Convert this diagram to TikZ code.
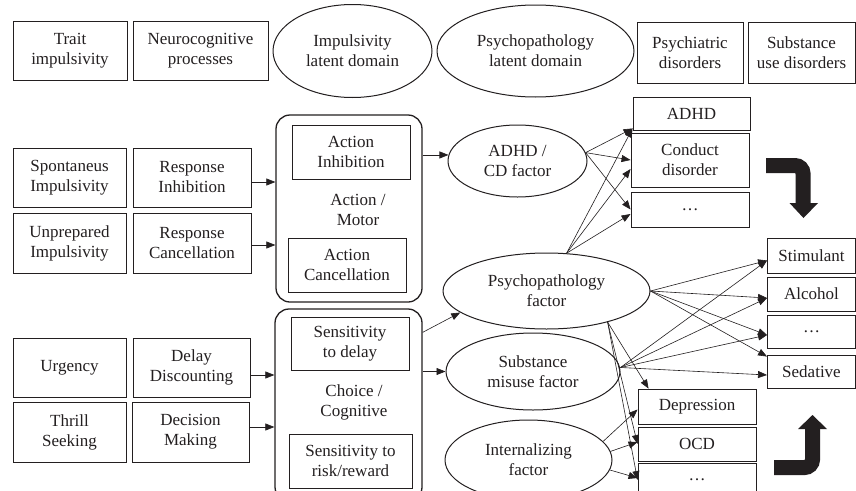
\documentclass[tikz,border=0pt]{standalone}
\usepackage{fontspec}
\setmainfont{Liberation Serif}
\usetikzlibrary{arrows.meta,calc,shapes.geometric}
\definecolor{ink}{HTML}{231F20}
\begin{document}
\begin{tikzpicture}[x=1pt,y=-1pt,
  every node/.style={font=\fontsize{17}{20}\selectfont, align=center, inner sep=0pt, text=ink},
  box/.style args={#1/#2}{draw=ink, rectangle, line width=0.9pt, minimum width=#1pt, minimum height=#2pt},
  ell/.style args={#1/#2}{draw=ink, ellipse, line width=1pt, minimum width=#1pt, minimum height=#2pt},
  rbox/.style args={#1/#2}{draw=ink, rectangle, rounded corners=14pt, line width=1.3pt, minimum width=#1pt, minimum height=#2pt},
  arr/.style={draw=ink, line width=0.6pt, -{Triangle[length=9pt,width=7pt]}},
  bigarrow/.style={draw=ink, line width=15pt, rounded corners=8pt}]
\useasboundingbox (0,0) rectangle (856,490);
\clip (0,0) rectangle (856,490);
\fill[white] (0,0) rectangle (856,490);

% header row
\node[box=114/59] (trait) at (70,50.5) {Trait\\impulsivity};
\node[box=135/59] (neuro) at (200.5,50.5) {Neurocognitive\\processes};
\node[ell=159/93] (implat) at (352.5,51) {Impulsivity\\latent domain};
\node[ell=197/92] (psylat) at (535.5,51) {Psychopathology\\latent domain};
\node[box=106/61] (psydis) at (690,52.5) {Psychiatric\\disorders};
\node[box=107/61] (subuse) at (801.5,52.5) {Substance\\use disorders};

% action / motor block
\node[box=113/59] (spont) at (69.5,177.5) {Spontaneus\\Impulsivity};
\node[box=118/59] (respinh) at (192,177.5) {Response\\Inhibition};
\node[box=113/60] (unprep) at (69.5,243) {Unprepared\\Impulsivity};
\node[box=118/60] (respcan) at (192,243) {Response\\Cancellation};
\node[rbox=146/187] (motor) at (349,208.5) {};
\node[box=118/54] (actinh) at (351,152) {Action\\Inhibition};
\node (motortxt) at (358,210) {Action /\\Motor};
\node[box=118/54] (actcan) at (347,265) {Action\\Cancellation};

% choice / cognitive block
\node[box=113/59] (urg) at (69.5,367.5) {Urgency};
\node[box=117/59] (delay) at (191.5,367.5) {Delay\\Discounting};
\node[box=113/60] (thrill) at (69.5,432) {Thrill\\Seeking};
\node[box=117/60] (decis) at (190.5,432) {Decision\\Making};
\node[rbox=147/192] (cog) at (348.5,405) {};
\node[box=118/53] (sensdel) at (350,343.5) {Sensitivity\\to delay};
\node (cogtxt) at (354,402) {Choice /\\Cognitive};
\node[box=123/54] (sensrisk) at (350.5,461) {Sensitivity to\\risk/reward};

% factors
\node[ell=139/72] (adhdcd) at (517.5,161) {ADHD /\\CD factor};
\node[ell=207/76] (psyf) at (546.5,291) {Psychopathology\\factor};
\node[ell=174/77] (subf) at (533,371.5) {Substance\\misuse factor};
\node[ell=167/80] (intf) at (528.5,460) {Internalizing\\factor};

% disorders
\node[box=117/33] (adhd) at (691.5,113.5) {ADHD};
\node[box=118/54] (conduct) at (690,160) {Conduct\\disorder};
\node[box=118/35] (dots1) at (690,209.5) {…};
\node[box=88/35] (stim) at (811.5,255.5) {Stimulant};
\node[box=88/34] (alc) at (811.5,294) {Alcohol};
\node[box=88/33] (dots2) at (811.5,331.5) {…};
\node[box=88/33] (sed) at (811.5,371.5) {Sedative};
\node[box=118/35] (dep) at (697,406.5) {Depression};
\node[box=118/34] (ocd) at (697,444) {OCD};
\node[box=118/34] (dots3) at (697,480) {…};

% inputs to blocks
\coordinate (p1) at ([yshift=-4.5pt]respinh.east);
\draw[arr] (p1) -- (p1 -| motor.west);
\coordinate (p2) at ([yshift=-2pt]respcan.east);
\draw[arr] (p2) -- (p2 -| motor.west);
\coordinate (p3) at ([yshift=-7.5pt]delay.east);
\draw[arr] (p3) -- (p3 -| cog.west);
\coordinate (p4) at ([yshift=5pt]decis.east);
\draw[arr] (p4) -- (p4 -| cog.west);

% blocks to factors
\draw[arr] (motor.east |- adhdcd.175) -- (adhdcd.175);
\coordinate (p5) at ([yshift=-24pt]cog.north east);
\draw[arr] (p5) -- (psyf.194);
\draw[arr] (cog.east |- subf.west) -- (subf.west);

% factors to disorders
\coordinate (t1) at ([yshift=2pt]adhd.south west);
\draw[arr] (adhdcd.7) -- (t1);
\draw[arr] (adhdcd.7) -- (conduct.west);
\draw[arr] (adhdcd.7) -- (dots1.west);
\draw[arr] (psyf.62) -- (t1);
\draw[arr] (psyf.62) -- ([yshift=-9pt]conduct.west);
\draw[arr] (psyf.62) -- ([yshift=-4.5pt]dots1.west);

\coordinate (s1) at ([yshift=-5pt]stim.west);
\coordinate (s2) at ([yshift=-4pt]alc.west);
\coordinate (s3) at ([yshift=-3.5pt]dots2.west);
\draw[arr] (psyf.east) -- (s1);
\draw[arr] (psyf.east) -- (s2);
\draw[arr] (psyf.east) -- (s3);
\draw[arr] (psyf.east) -- ([yshift=-2pt]sed.north west);
\coordinate (sf) at ([yshift=4pt]subf.east);
\draw[arr] (sf) -- (s1);
\draw[arr] (sf) -- (s2);
\draw[arr] (sf) -- (s3);
\draw[arr] (sf) -- ([yshift=-3.5pt]sed.west);

\draw[arr] (psyf.333) -- ([xshift=11pt]dep.north west);
\draw[arr] (psyf.333) -- (ocd.west);
\draw[arr] (psyf.333) -- (dots3.west);
\draw[arr] (intf.14) -- ([yshift=-3pt]dep.west);
\draw[arr] (intf.6) -- ([yshift=2pt]ocd.west);
\draw[arr] (intf.353) -- ([yshift=2pt]dots3.west);

% big bent arrows
\draw[bigarrow] (766,165.5) -- (803,165.5) -- (803,204);
\fill[ink] (789.5,203) -- (818,203) -- (803.5,218) -- cycle;
\draw[bigarrow] (774,467.5) -- (812.5,467.5) -- (812.5,428);
\fill[ink] (798,429) -- (827,429) -- (812.5,415) -- cycle;
\end{tikzpicture}
\end{document}
